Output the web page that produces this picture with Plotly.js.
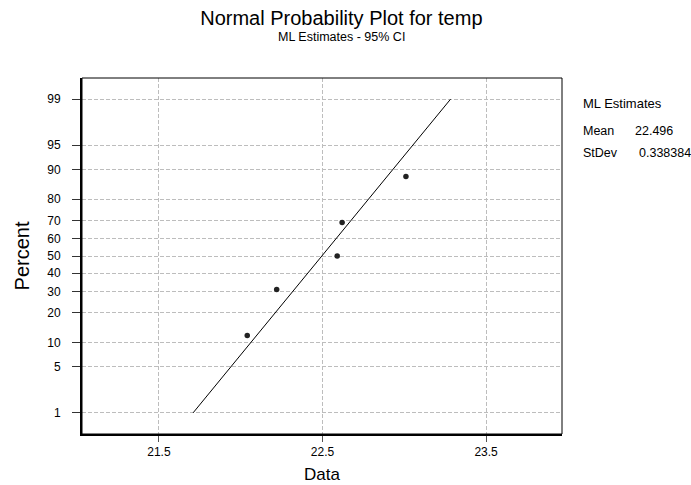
<!DOCTYPE html>
<html>
<head>
<meta charset="utf-8">
<script src="https://cdn.plot.ly/plotly-3.0.1.min.js"></script>
<style>html,body{margin:0;padding:0;background:#fff;}#chart{width:691px;height:485px;}</style>
</head>
<body>
<div id="chart"></div>
<script>
// ---- data ----
const tempData = [22.04, 22.22, 22.59, 22.62, 23.01];
const dataPercent = [11.9, 31.0, 50, 69.0, 88.1];
const fitX = [21.709, 23.283];
const fitPercent = [1, 99];
const percentTicks = [1, 5, 10, 20, 30, 40, 50, 60, 70, 80, 90, 95, 99];
const xTicks = [21.5, 22.5, 23.5];
const estLabels = ["Mean", "StDev"];
const estValues = ["22.496", "0.338384"];

// normal probability scale (inverse standard normal CDF, Acklam)
function probit(pct) {
  const p = pct / 100;
  const a = [-3.969683028665376e+01, 2.209460984245205e+02, -2.759285104469687e+02, 1.383577518672690e+02, -3.066479806614716e+01, 2.506628277459239e+00];
  const b = [-5.447609879822406e+01, 1.615858368580409e+02, -1.556989798598866e+02, 6.680131188771972e+01, -1.328068155288572e+01];
  const c = [-7.784894002430293e-03, -3.223964580411365e-01, -2.400758277161838e+00, -2.549732539343734e+00, 4.374664141464968e+00, 2.938163982698783e+00];
  const d = [7.784695709041462e-03, 3.224671290700398e-01, 2.445134137142996e+00, 3.754408661907416e+00];
  const pl = 0.02425, ph = 1 - pl;
  let q, r;
  if (p < pl) {
    q = Math.sqrt(-2 * Math.log(p));
    return (((((c[0]*q+c[1])*q+c[2])*q+c[3])*q+c[4])*q+c[5]) / ((((d[0]*q+d[1])*q+d[2])*q+d[3])*q+1);
  } else if (p <= ph) {
    q = p - 0.5; r = q * q;
    return (((((a[0]*r+a[1])*r+a[2])*r+a[3])*r+a[4])*r+a[5])*q / (((((b[0]*r+b[1])*r+b[2])*r+b[3])*r+b[4])*r+1);
  } else {
    q = Math.sqrt(-2 * Math.log(1 - p));
    return -(((((c[0]*q+c[1])*q+c[2])*q+c[3])*q+c[4])*q+c[5]) / ((((d[0]*q+d[1])*q+d[2])*q+d[3])*q+1);
  }
}

const font = "Liberation Sans, Arial, sans-serif";

const traces = [
  {
    x: fitX, y: fitPercent.map(probit), type: 'scatter', mode: 'lines',
    line: {color: '#000', width: 1}, hoverinfo: 'skip', showlegend: false
  },
  {
    x: tempData, y: dataPercent.map(probit), type: 'scatter', mode: 'markers',
    marker: {color: '#222', size: 5.5}, showlegend: false
  }
];

const annotations = [
  {text: "ML Estimates - 95% CI", xref: 'paper', yref: 'paper', x: 0.54, y: 1.115,
   xanchor: 'center', yanchor: 'middle', showarrow: false, font: {family: font, size: 12.5, color: '#000'}},
  {text: "ML Estimates", xref: 'paper', yref: 'paper', x: 1.0396, y: 0.927,
   xanchor: 'left', yanchor: 'middle', showarrow: false, font: {family: font, size: 13, color: '#000'}},
  {text: estLabels[0], xref: 'paper', yref: 'paper', x: 1.0396, y: 0.852,
   xanchor: 'left', yanchor: 'middle', showarrow: false, font: {family: font, size: 12.5, color: '#000'}},
  {text: estValues[0], xref: 'paper', yref: 'paper', x: 1.148, y: 0.852,
   xanchor: 'left', yanchor: 'middle', showarrow: false, font: {family: font, size: 12.5, color: '#000'}},
  {text: estLabels[1], xref: 'paper', yref: 'paper', x: 1.0396, y: 0.790,
   xanchor: 'left', yanchor: 'middle', showarrow: false, font: {family: font, size: 12.5, color: '#000'}},
  {text: estValues[1], xref: 'paper', yref: 'paper', x: 1.157, y: 0.790,
   xanchor: 'left', yanchor: 'middle', showarrow: false, font: {family: font, size: 12.5, color: '#000'}}
];

const layout = {
  width: 691, height: 485,
  margin: {l: 82, r: 129, t: 78, b: 51},
  paper_bgcolor: '#fff', plot_bgcolor: '#fff',
  font: {family: font, color: '#000'},
  title: {text: "Normal Probability Plot for temp", xref: 'container', x: 0.494, y: 0.963,
          xanchor: 'center', yanchor: 'middle', font: {family: font, size: 20, color: '#000'}},
  xaxis: {
    range: [21.03, 23.964], tickvals: xTicks, ticktext: xTicks.map(v => v.toFixed(1)),
    ticks: 'outside', ticklen: 6, tickcolor: '#555', tickwidth: 1,
    showgrid: true, gridcolor: '#bdbdbd', griddash: '4px,2px', gridwidth: 1,
    showline: true, linecolor: '#000', linewidth: 2, zeroline: false,
    tickfont: {family: font, size: 12, color: '#000'},
    title: {text: "Data", font: {family: font, size: 17, color: '#000'}, standoff: 10}
  },
  yaxis: {
    range: [-2.64, 2.64], tickvals: percentTicks.map(probit), ticktext: percentTicks.map(String),
    ticks: 'outside', ticklen: 8, tickcolor: '#333', tickwidth: 1, ticklabelstandoff: 9,
    showgrid: true, gridcolor: '#bdbdbd', griddash: '4px,2px', gridwidth: 1,
    showline: true, linecolor: '#000', linewidth: 2, zeroline: false,
    tickfont: {family: font, size: 12, color: '#000'},
    title: {text: "Percent", font: {family: font, size: 20, color: '#000'}, standoff: 12}
  },
  shapes: [{type: 'rect', xref: 'paper', yref: 'paper', x0: 0, x1: 1, y0: 0, y1: 1,
            line: {color: '#000', width: 1}, layer: 'above'}],
  annotations: annotations,
  showlegend: false
};

Plotly.newPlot('chart', traces, layout, {displayModeBar: false, staticPlot: true});
</script>
</body>
</html>
